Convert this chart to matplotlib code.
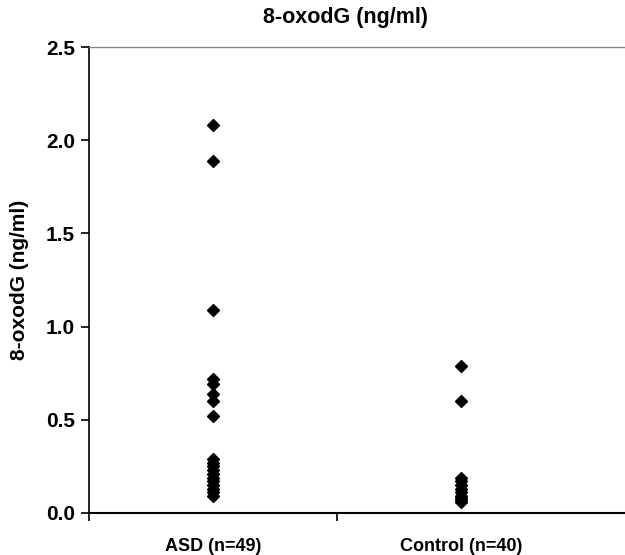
import matplotlib
matplotlib.use("Agg")
import matplotlib.pyplot as plt

# Values
groups = ["ASD (n=49)", "Control (n=40)"]
asd = [2.08, 1.89, 1.09, 0.72, 0.69, 0.64, 0.60, 0.52,
       0.29, 0.27, 0.25, 0.23, 0.21, 0.19, 0.17, 0.15, 0.13, 0.11, 0.09]
control = [0.79, 0.60, 0.19, 0.17, 0.15, 0.13, 0.11, 0.09, 0.08, 0.07, 0.06]

plt.rcParams["font.family"] = ["Liberation Sans", "DejaVu Sans"]
plt.rcParams["font.weight"] = "bold"

fig = plt.figure(figsize=(6.25, 5.55), dpi=100)
ax = fig.add_axes([0.1424, 0.0757, 0.8576, 0.8396])

ax.plot([0.5] * len(asd), asd, linestyle="none", marker="D",
        markersize=5.8, color="black")
ax.plot([1.5] * len(control), control, linestyle="none", marker="D",
        markersize=5.8, color="black")

ax.set_xlim(0, 2.16)
ax.set_ylim(0, 2.5)
ax.set_yticks([0, 0.5, 1.0, 1.5, 2.0, 2.5])
ax.set_yticklabels(["0.0", "0.5", "1.0", "1.5", "2.0", "2.5"])
ax.set_xticks([0, 1])
ax.set_xticklabels([])
ax.set_xticks([0.5, 1.5], minor=True)
ax.set_xticklabels(groups, minor=True)
ax.tick_params(axis="x", which="minor", length=0, pad=18, labelsize=13)
ax.tick_params(axis="x", which="major", length=6, direction="out", width=1.2)
ax.tick_params(axis="y", length=6, direction="out", width=1.2, labelsize=15, pad=4)

ax.spines["right"].set_visible(False)
ax.spines["top"].set_color("#888888")
ax.spines["top"].set_linewidth(1.0)
ax.spines["left"].set_linewidth(1.2)
ax.spines["bottom"].set_linewidth(1.5)

ax.set_ylabel("8-oxodG (ng/ml)", fontsize=15, fontweight="bold")
ax.yaxis.set_label_coords(-0.112, 0.5)
fig.text(0.552, 0.969, "8-oxodG (ng/ml)", fontsize=15.5, fontweight="bold",
         ha="center", va="center")

fig.savefig("out.png", dpi=100)
